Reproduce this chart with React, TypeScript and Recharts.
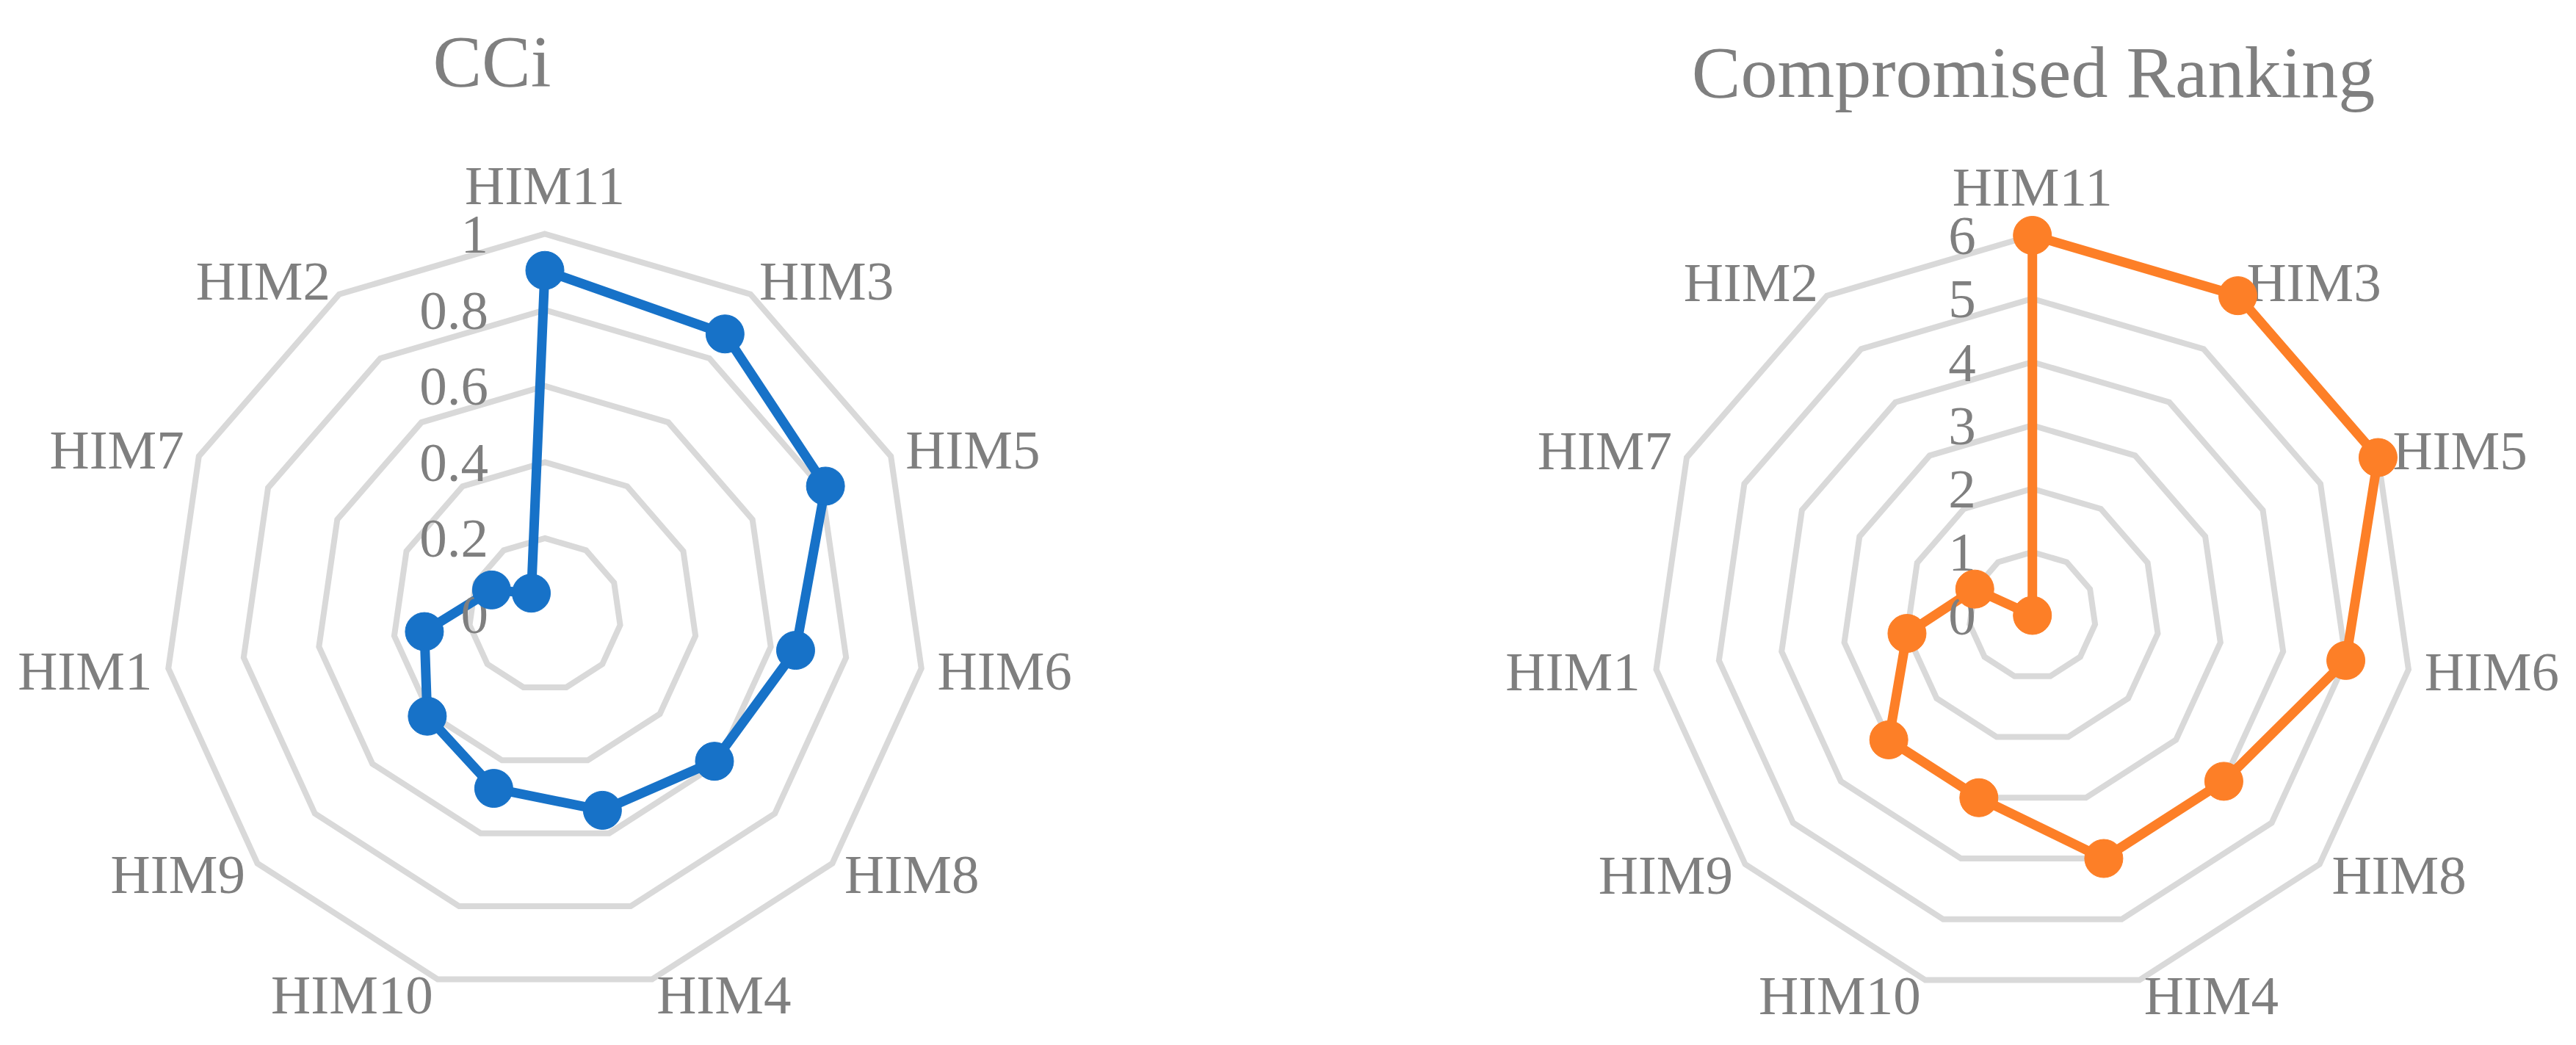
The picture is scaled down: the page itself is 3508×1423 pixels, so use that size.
import { RadarChart, Radar, PolarGrid, PolarAngleAxis, PolarRadiusAxis } from "recharts";

const categories = ["HIM11", "HIM3", "HIM5", "HIM6", "HIM8", "HIM4", "HIM10", "HIM9", "HIM1", "HIM7", "HIM2"];
const cciValues = [0.904, 0.876, 0.811, 0.666, 0.59, 0.537, 0.477, 0.409, 0.32, 0.154, 0.066];
const rankingValues = [6, 6, 6, 5, 4, 4, 3, 3, 2, 1, 0];
const cciTicks = [0, 0.2, 0.4, 0.6, 0.8, 1];
const rankingTicks = [0, 1, 2, 3, 4, 5, 6];

const FONT = '"Liberation Serif", "Times New Roman", serif';
const TEXT = "#7f7f7f";
const GRID = "#d9d9d9";

const AngleTick = (props: any) => {
  const { x, y, payload } = props;
  const rad = (payload.coordinate * Math.PI) / 180;
  const dx = Math.cos(rad);
  const up = Math.sin(rad) > 0.5;
  const anchor = Math.abs(dx) < 0.05 ? "middle" : dx > 0 ? "start" : "end";
  const top = anchor === "middle" && up;
  return (
    <text
      x={x}
      y={top ? y - 19 : y}
      textAnchor={anchor}
      dominantBaseline={top ? "auto" : "central"}
      fill={TEXT}
      fontSize={75}
      fontFamily={FONT}
    >
      {payload.value}
    </text>
  );
};

const RadiusTick = (props: any) => {
  const { x, y, payload } = props;
  return (
    <text x={x - 77} y={y} textAnchor="end" dominantBaseline="central" fill={TEXT} fontSize={75} fontFamily={FONT}>
      {String(+Number(payload.value).toFixed(2))}
    </text>
  );
};

interface PanelProps {
  values: number[];
  ticks: number[];
  color: string;
  cx: number;
  cy: number;
  radius: number;
}

const Panel = ({ values, ticks, color, cx, cy, radius }: PanelProps) => {
  const data = categories.map((name, i) => ({ name, value: values[i] }));
  return (
    <RadarChart width={1754} height={1423} data={data} cx={cx} cy={cy} outerRadius={radius} margin={{ top: 0, right: 0, bottom: 0, left: 0 }}>
      <PolarGrid gridType="polygon" radialLines={false} stroke={GRID} strokeWidth={8} />
      <PolarAngleAxis dataKey="name" tickLine={false} axisLine={false} tickSize={22} tick={AngleTick} />
      <PolarRadiusAxis
        angle={90}
        type="number"
        domain={[ticks[0], ticks[ticks.length - 1]]}
        ticks={ticks as any}
        tickCount={ticks.length}
        allowDecimals
        axisLine={false}
        tickLine={false}
        tick={RadiusTick}
      />
      <Radar
        dataKey="value"
        stroke={color}
        strokeWidth={13}
        fill="none"
        fillOpacity={0}
        isAnimationActive={false}
        dot={{ r: 26, fill: color, stroke: color, strokeWidth: 1, fillOpacity: 1 }}
      />
    </RadarChart>
  );
};

export default function App() {
  return (
    <div style={{ position: "fixed", left: 0, top: 0, width: 3508, height: 1423, background: "#fff" }}>
      <style>{`.recharts-polar-grid-concentric-polygon { stroke-width: 8px; }`}</style>
      <div style={{ position: "absolute", left: 0, top: 0 }}>
        <Panel values={cciValues} ticks={cciTicks} color="#1772c8" cx={742} cy={836.5} radius={518} />
      </div>
      <div style={{ position: "absolute", left: 1754, top: 0 }}>
        <Panel values={rankingValues} ticks={rankingTicks} color="#fd7f27" cx={1013.7} cy={838} radius={517.5} />
      </div>
      <svg width={3508} height={1423} style={{ position: "absolute", left: 0, top: 0, pointerEvents: "none" }}>
        <text x={670} y={117} textAnchor="middle" fill={TEXT} fontSize={100} fontFamily={FONT}>
          CCi
        </text>
        <text x={2769} y={132} textAnchor="middle" fill={TEXT} fontSize={100} fontFamily={FONT}>
          Compromised Ranking
        </text>
      </svg>
    </div>
  );
}
